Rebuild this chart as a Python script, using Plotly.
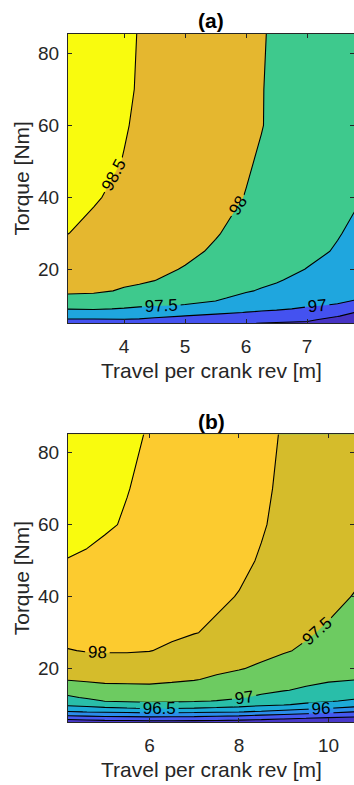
import plotly.graph_objects as go

# ---------------- data ----------------
TORQUE_A = [5, 6, 7, 8, 9, 10, 12, 14, 17, 20, 25, 30, 40, 50, 60, 70, 86]
TRAVEL_A = [3.05, 3.5, 4.0, 4.25, 4.5, 5.0, 5.5, 6.0, 6.25, 6.5, 7.0, 7.5, 7.8]
EFF_A = [
    [96.74, 96.74, 96.75, 96.74, 96.67, 96.60, 96.56, 96.52, 96.49, 96.47, 96.43, 96.18, 96.06],
    [96.96, 96.96, 96.98, 96.96, 96.90, 96.80, 96.71, 96.70, 96.64, 96.60, 96.57, 96.35, 96.20],
    [97.15, 97.16, 97.15, 97.13, 97.08, 96.99, 96.90, 96.86, 96.80, 96.75, 96.70, 96.52, 96.35],
    [97.33, 97.35, 97.31, 97.29, 97.24, 97.16, 97.08, 96.99, 96.96, 96.92, 96.83, 96.67, 96.49],
    [97.51, 97.53, 97.48, 97.44, 97.40, 97.33, 97.24, 97.10, 97.06, 97.04, 96.96, 96.83, 96.69],
    [97.63, 97.63, 97.58, 97.55, 97.53, 97.49, 97.41, 97.20, 97.14, 97.11, 97.03, 96.98, 96.88],
    [97.87, 97.85, 97.75, 97.71, 97.67, 97.59, 97.56, 97.39, 97.31, 97.25, 97.13, 97.07, 97.04],
    [98.10, 98.07, 97.96, 97.92, 97.81, 97.69, 97.64, 97.53, 97.47, 97.39, 97.22, 97.14, 97.10],
    [98.18, 98.14, 98.08, 98.05, 98.01, 97.83, 97.76, 97.64, 97.58, 97.54, 97.36, 97.25, 97.19],
    [98.29, 98.23, 98.15, 98.11, 98.07, 97.98, 97.86, 97.74, 97.68, 97.62, 97.49, 97.36, 97.28],
    [98.41, 98.34, 98.25, 98.20, 98.15, 98.07, 97.96, 97.84, 97.78, 97.71, 97.59, 97.47, 97.39],
    [98.51, 98.42, 98.32, 98.27, 98.22, 98.12, 98.02, 97.90, 97.84, 97.77, 97.64, 97.52, 97.44],
    [98.62, 98.53, 98.42, 98.37, 98.32, 98.21, 98.10, 97.99, 97.93, 97.86, 97.73, 97.60, 97.53],
    [98.68, 98.60, 98.49, 98.43, 98.37, 98.26, 98.15, 98.03, 97.97, 97.91, 97.78, 97.65, 97.57],
    [98.72, 98.63, 98.52, 98.46, 98.40, 98.29, 98.17, 98.06, 98.01, 97.94, 97.81, 97.68, 97.60],
    [98.74, 98.65, 98.54, 98.48, 98.42, 98.30, 98.18, 98.07, 98.01, 97.95, 97.82, 97.69, 97.61],
    [98.77, 98.67, 98.55, 98.49, 98.44, 98.32, 98.20, 98.08, 98.02, 97.96, 97.83, 97.70, 97.62],
]

TORQUE_B = [5, 6, 7, 8, 9, 10, 11, 12, 14, 17, 20, 25, 30, 40, 50, 60, 70, 86]
TRAVEL_B = [4.15, 4.6, 5.0, 5.5, 6.0, 6.5, 7.0, 7.5, 8.0, 8.5, 9.0, 9.5, 10.0, 10.6]
EFF_B = [
    [94.60, 94.65, 94.70, 94.72, 94.75, 94.75, 94.73, 94.75, 94.70, 94.66, 94.60, 94.55, 94.52, 94.45],
    [95.05, 95.12, 95.18, 95.20, 95.23, 95.22, 95.20, 95.17, 95.13, 95.06, 94.99, 94.92, 94.85, 94.79],
    [95.54, 95.58, 95.63, 95.65, 95.68, 95.66, 95.64, 95.59, 95.55, 95.46, 95.38, 95.31, 95.23, 95.14],
    [95.96, 96.01, 96.04, 96.08, 96.13, 96.10, 96.08, 96.05, 96.02, 95.93, 95.82, 95.71, 95.62, 95.49],
    [96.32, 96.37, 96.42, 96.48, 96.53, 96.52, 96.49, 96.44, 96.39, 96.30, 96.21, 96.10, 96.01, 95.88],
    [96.58, 96.64, 96.74, 96.81, 96.87, 96.84, 96.79, 96.73, 96.67, 96.58, 96.53, 96.43, 96.31, 96.18],
    [96.75, 96.87, 97.01, 97.04, 97.06, 97.05, 97.03, 96.99, 96.90, 96.75, 96.66, 96.59, 96.54, 96.43],
    [96.92, 97.05, 97.12, 97.15, 97.17, 97.15, 97.11, 97.07, 97.04, 96.93, 96.79, 96.71, 96.65, 96.56],
    [97.18, 97.27, 97.34, 97.36, 97.38, 97.34, 97.29, 97.22, 97.16, 97.09, 97.02, 96.94, 96.85, 96.74],
    [97.52, 97.56, 97.59, 97.59, 97.59, 97.56, 97.52, 97.44, 97.35, 97.27, 97.17, 97.10, 97.05, 97.01],
    [97.69, 97.74, 97.77, 97.77, 97.75, 97.71, 97.64, 97.58, 97.52, 97.44, 97.34, 97.23, 97.14, 97.07],
    [97.98, 98.02, 98.03, 98.03, 98.01, 97.94, 97.86, 97.78, 97.69, 97.60, 97.53, 97.45, 97.36, 97.25],
    [98.13, 98.14, 98.15, 98.14, 98.11, 98.06, 98.01, 97.96, 97.84, 97.73, 97.63, 97.54, 97.45, 97.35],
    [98.33, 98.29, 98.25, 98.21, 98.17, 98.12, 98.08, 98.04, 97.99, 97.89, 97.79, 97.69, 97.60, 97.48],
    [98.49, 98.45, 98.40, 98.34, 98.28, 98.22, 98.17, 98.11, 98.05, 97.98, 97.91, 97.82, 97.72, 97.60],
    [98.66, 98.60, 98.54, 98.47, 98.39, 98.32, 98.24, 98.17, 98.09, 98.02, 97.94, 97.85, 97.76, 97.64],
    [98.72, 98.65, 98.59, 98.51, 98.43, 98.35, 98.27, 98.20, 98.12, 98.04, 97.96, 97.87, 97.78, 97.67],
    [98.79, 98.72, 98.65, 98.57, 98.48, 98.40, 98.32, 98.23, 98.15, 98.07, 97.98, 97.89, 97.80, 97.70],
]

LEVELS_A = dict(start=96.5, end=98.5, size=0.5)
LEVELS_B = dict(start=95.0, end=98.5, size=0.5)

# band colours, lowest band first
BANDS_A = ["#4733C4", "#4452F0", "#1FA6DE", "#3EC98D", "#E5B72F", "#F9FB0E"]
BANDS_B = ["#4838CA", "#4559F0", "#2B8DEA", "#1DAAD8", "#29BEA9", "#6DCB61",
           "#D5BC2B", "#FCCB2F", "#F9FB0E"]

TITLES = ["(a)", "(b)"]
X_LABEL = "Travel per crank rev [m]"
Y_LABEL = "Torque [Nm]"

FONT = "Liberation Sans, Arial, sans-serif"
AX_COLOR = "#262626"


def step_scale(colors, lv):
    # colour domain used by plotly for filled contours: [start - size, end]
    lo = lv["start"] - lv["size"]
    hi = lv["end"]
    span = hi - lo
    n = len(colors)
    scale = []
    for i, c in enumerate(colors):
        a = (i * lv["size"]) / span
        b = ((i + 1) * lv["size"]) / span
        if i == n - 2:
            b = 1 - 0.25 * lv["size"] / span
        if i == n - 1:
            a = 1 - 0.25 * lv["size"] / span
            b = 1.0
        scale.append([max(0.0, min(1.0, a)), c])
        scale.append([max(0.0, min(1.0, b)), c])
    return scale


def contour(x, y, z, lv, colors, xa, ya):
    return go.Contour(
        x=x, y=y, z=z, xaxis=xa, yaxis=ya,
        contours=dict(start=lv["start"], end=lv["end"], size=lv["size"],
                      coloring="fill", showlabels=True,
                      labelfont=dict(size=17, color="black", family=FONT),
                      labelformat=".4~g"),
        line=dict(color="black", width=1.1, smoothing=0),
        colorscale=step_scale(colors, lv), showscale=False,
        hoverinfo="skip",
    )


fig = go.Figure()
fig.add_trace(contour(TRAVEL_A, TORQUE_A, EFF_A, LEVELS_A, BANDS_A, "x", "y"))
fig.add_trace(contour(TRAVEL_B, TORQUE_B, EFF_B, LEVELS_B, BANDS_B, "x2", "y2"))

W, H = 354, 785
PL, PR = 68, 354
A_TOP, A_BOT = 34, 323
B_TOP, B_BOT = 434.3, 722.3

common_axis = dict(showline=True, linecolor=AX_COLOR, linewidth=1, mirror="ticks",
                   ticks="inside", ticklen=4, tickcolor=AX_COLOR, tickwidth=1,
                   showgrid=False, zeroline=False, automargin=False,
                   tickfont=dict(family=FONT, size=19, color=AX_COLOR))

fig.update_layout(
    width=W, height=H, margin=dict(l=0, r=0, t=0, b=0, pad=0, autoexpand=False),
    paper_bgcolor="white", plot_bgcolor="white", showlegend=False,
    xaxis=dict(common_axis, domain=[PL / W, PR / W], range=[3.08, 7.77],
               tickvals=[4, 5, 6, 7], anchor="y", ticklabelstandoff=6),
    yaxis=dict(common_axis, domain=[1 - A_BOT / H, 1 - A_TOP / H], range=[5.08, 85.36],
               tickvals=[20, 40, 60, 80], anchor="x", ticklabelstandoff=4),
    xaxis2=dict(common_axis, domain=[PL / W, PR / W], range=[4.18, 10.57],
                tickvals=[6, 8, 10], anchor="y2", ticklabelstandoff=6),
    yaxis2=dict(common_axis, domain=[1 - B_BOT / H, 1 - B_TOP / H], range=[5.1, 85.1],
                tickvals=[20, 40, 60, 80], anchor="x2", ticklabelstandoff=4),
)

ann = []
for title, top, bot in [(TITLES[0], A_TOP, A_BOT), (TITLES[1], B_TOP, B_BOT)]:
    cx = (PL + PR) / 2 / W
    ann.append(dict(text="<b>%s</b>" % title, x=cx, y=1 - (top - 13) / H,
                    xref="paper", yref="paper", showarrow=False,
                    xanchor="center", yanchor="middle",
                    font=dict(family=FONT, size=21, color="black")))
    ann.append(dict(text=X_LABEL, x=cx, y=1 - (bot + 47) / H,
                    xref="paper", yref="paper", showarrow=False,
                    xanchor="center", yanchor="middle",
                    font=dict(family=FONT, size=21, color=AX_COLOR)))
    ann.append(dict(text=Y_LABEL, x=21 / W, y=1 - (top + bot) / 2 / H,
                    xref="paper", yref="paper", showarrow=False, textangle=-90,
                    xanchor="center", yanchor="middle",
                    font=dict(family=FONT, size=21, color=AX_COLOR)))
fig.update_layout(annotations=ann)

fig.write_html("out.html", config={"displayModeBar": False},
               post_script="document.body.style.margin='0';")
